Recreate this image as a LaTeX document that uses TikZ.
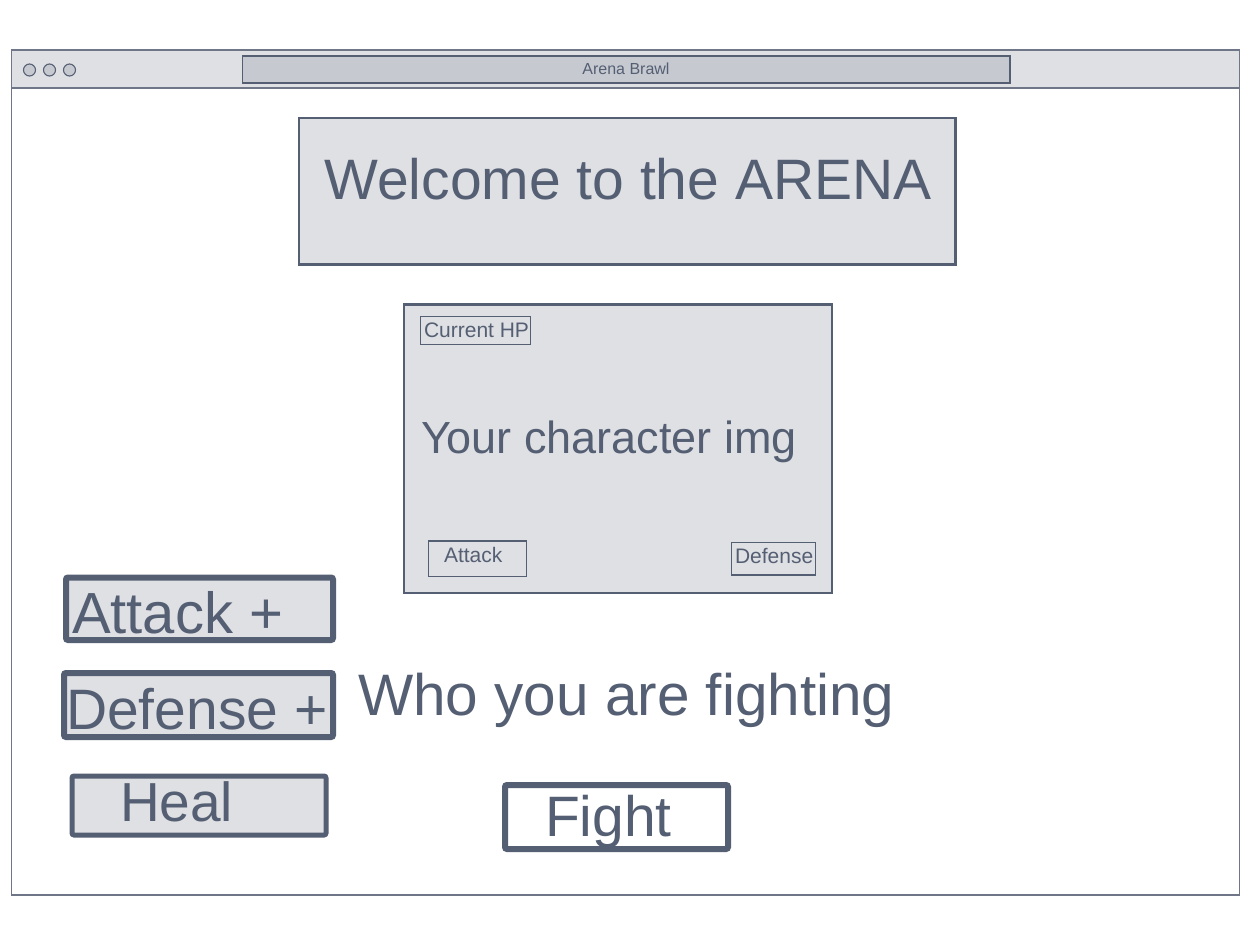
\documentclass[tikz,border=0pt]{standalone}
\usepackage{fontspec}
\setmainfont{Liberation Sans}
\definecolor{ink}{HTML}{555F73}
\definecolor{frame}{HTML}{6E7687}
\definecolor{panel}{HTML}{DFE0E4}
\definecolor{bar}{HTML}{C6C9D0}
\tikzset{
  win/.style={draw=frame, line width=1.4pt, fill=white},
  titlebar/.style={draw=frame, line width=1.4pt, fill=panel},
  addr/.style={draw=ink, line width=1.4pt, fill=bar},
  dot/.style={draw=ink, line width=1.1pt, fill=bar},
  panelbox/.style={draw=ink, line width=2.4pt, fill=panel},
  smallbox/.style={draw=ink, line width=1.2pt, fill=panel},
  fatbtn/.style={draw=ink, line width=6pt, fill=panel, rounded corners=2pt},
  fightbtn/.style={draw=ink, line width=6pt, fill=white, rounded corners=2pt},
  txt/.style={text=ink, inner sep=0pt, outer sep=0pt},
  big/.style={txt, font=\fontsize{57}{60}\selectfont},
  mid/.style={txt, font=\fontsize{45}{48}\selectfont},
  small/.style={txt, font=\fontsize{21}{24}\selectfont},
  tiny/.style={txt, font=\fontsize{16}{19}\selectfont},
}
\begin{document}
\begin{tikzpicture}[x=1pt,y=-1pt]
\useasboundingbox[fill=white] (0,0) rectangle (1251,945);
% window
\draw[win] (11.5,50) rectangle (1239.5,895);
\draw[titlebar] (11.5,50) rectangle (1239.5,88);
\draw[dot] (29.5,70) circle (6);
\draw[dot] (49.5,70) circle (6);
\draw[dot] (69.5,70) circle (6);
\draw[addr] (242.5,56) rectangle (1010,83);
\node[tiny, anchor=base] (title) at (626,74) {Arena Brawl};
% welcome
\draw[panelbox] (299,118) rectangle (955.5,264.5);
\node[big, anchor=base] (welcome) at (628,199) {Welcome to the ARENA};
% character panel
\draw[panelbox] (404,304.5) rectangle (832,593);
\draw[smallbox] (420.5,316.5) rectangle (530.5,344.5);
\node[small, anchor=base west] (hp) at (424,337) {Current HP};
\node[mid, anchor=base west] (charimg) at (421,453) {Your character img};
\draw[smallbox] (428.5,541) rectangle (526.5,576.5);
\node[small, anchor=base west] (atk) at (444,562) {Attack};
\draw[smallbox] (731.5,542.5) rectangle (815.5,575);
\node[small, anchor=base west] (def) at (735,563) {Defense};
% left buttons
\draw[fatbtn] (66,577.5) rectangle (333,640);
\node[big, anchor=base west, font=\fontsize{58}{60}\selectfont] (atkplus) at (72,633) {Attack +};
\draw[fatbtn] (64,673) rectangle (333,737);
\node[big, anchor=base west] (defplus) at (66,729) {Defense +};
\draw[fatbtn, line width=5pt] (72,776) rectangle (326,835);
\node[big, anchor=base west, font=\fontsize{55}{58}\selectfont] (heal) at (120,821) {Heal};
% opponent + fight
\node[big, anchor=base west, font=\fontsize{58.5}{61}\selectfont] (who) at (358,715) {Who you are fighting};
\draw[fightbtn] (505,785) rectangle (728,849);
\node[big, anchor=base west] (fight) at (545,836) {Fight};
\end{tikzpicture}
\end{document}
